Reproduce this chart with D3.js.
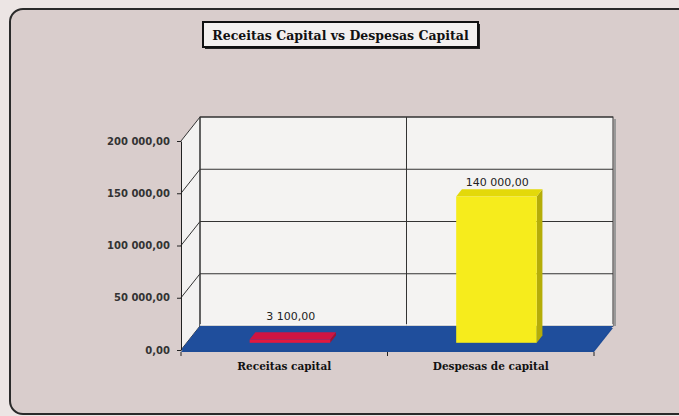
<!DOCTYPE html>
<html>
<head>
<meta charset="utf-8">
<script src="https://cdn.jsdelivr.net/npm/d3@7"></script>
<style>
  body { margin: 0; background: #ece5e4; overflow: hidden; }
  svg { display: block; }
</style>
</head>
<body>
<svg width="679" height="416"></svg>
<script>
// chart data
var categories = ["Receitas capital", "Despesas de capital"];
var values = [3100, 140000];
var yTicks = [0, 50000, 100000, 150000, 200000];
var barColors = ["#e2183f", "#f6ec1c"];
var barTops = ["#cf1442", "#e3d90a"];
var barSides = ["#a3102e", "#b5ad08"];
var title = "Receitas Capital vs Despesas Capital";

var svg = d3.select("svg");
var DEPTH = {dx: 19, dy: -24};
var fmt = d3.formatLocale({decimal: ",", thousands: " ", grouping: [3], currency: ["", ""]}).format(",.2f");

var x = d3.scaleBand().domain(categories).range([181, 594]);
var y = d3.scaleLinear().domain([0, 200000]).range([350, 141]);

// outer frame (open on the right, it runs off the picture)
svg.append("path")
    .attr("d", "M690,9 H23 A13,13 0 0 0 10,22 V401 A13,13 0 0 0 23,414 H690 Z")
    .attr("fill", "#d9cdcc");
svg.append("path")
    .attr("d", "M690,9 H23 A13,13 0 0 0 10,22 V401 A13,13 0 0 0 23,414 H690")
    .attr("fill", "none")
    .attr("stroke", "#2a2a2a")
    .attr("stroke-width", 2);

// title box
svg.append("rect")
    .attr("x", 205).attr("y", 24)
    .attr("width", 275).attr("height", 25)
    .attr("fill", "#222");
svg.append("rect")
    .attr("x", 203).attr("y", 22)
    .attr("width", 275).attr("height", 25)
    .attr("fill", "#f3f0ef")
    .attr("stroke", "#111")
    .attr("stroke-width", 2);
svg.append("text")
    .attr("x", 340.5).attr("y", 40)
    .attr("text-anchor", "middle")
    .attr("font-family", "DejaVu Serif")
    .attr("font-weight", "bold")
    .attr("font-size", 12.5)
    .attr("fill", "#111")
    .text(title);

var y0 = y(0), y1 = y(200000);
var xl = x.range()[0], xr = x.range()[1];

// side wall + back wall
svg.append("polygon")
    .attr("points", [[xl, y0], [xl + DEPTH.dx, y0 + DEPTH.dy], [xl + DEPTH.dx, y1 + DEPTH.dy], [xl, y1]].join(" "))
    .attr("fill", "#f3f2f1");
svg.append("rect")
    .attr("x", xl + DEPTH.dx).attr("y", y1 + DEPTH.dy)
    .attr("width", xr - xl).attr("height", y0 - y1)
    .attr("fill", "#f4f3f2")
    .attr("stroke", "#333");
svg.append("line")
    .attr("x1", xr + DEPTH.dx + 2).attr("x2", xr + DEPTH.dx + 2)
    .attr("y1", y1 + DEPTH.dy + 2).attr("y2", y0 + DEPTH.dy)
    .attr("stroke", "#999").attr("stroke-width", 2);

// gridlines on walls
var grid = svg.append("g").attr("stroke", "#333").attr("fill", "none");
yTicks.forEach(function(t) {
    grid.append("polyline")
        .attr("points", [[xl, y(t)], [xl + DEPTH.dx, y(t) + DEPTH.dy], [xr + DEPTH.dx, y(t) + DEPTH.dy]].join(" "));
});
grid.append("line")
    .attr("x1", xl + DEPTH.dx).attr("x2", xl + DEPTH.dx)
    .attr("y1", y0 + DEPTH.dy).attr("y2", y1 + DEPTH.dy);
var mid = x(categories[1]);
grid.append("line")
    .attr("x1", mid + DEPTH.dx).attr("x2", mid + DEPTH.dx)
    .attr("y1", y0 + DEPTH.dy).attr("y2", y1 + DEPTH.dy);

// floor
svg.append("polygon")
    .attr("points", [[xl, y0 + 2], [xr, y0 + 2], [xr + DEPTH.dx, y0 + DEPTH.dy + 2], [xl + DEPTH.dx, y0 + DEPTH.dy + 2]].join(" "))
    .attr("fill", "#1d4b96");
svg.append("polygon")
    .attr("points", [[xl, y0], [xr, y0], [xr + DEPTH.dx, y0 + DEPTH.dy], [xl + DEPTH.dx, y0 + DEPTH.dy]].join(" "))
    .attr("fill", "#1f4e9c");
svg.append("line")
    .attr("x1", xl + DEPTH.dx).attr("x2", xr + DEPTH.dx)
    .attr("y1", y0 + DEPTH.dy - 1).attr("y2", y0 + DEPTH.dy - 1)
    .attr("stroke", "#fafafa").attr("stroke-width", 1.5);

// bars
var z0 = 0.3, z1 = 0.6, bw = x.bandwidth() * 0.39;
var bars = svg.append("g");
categories.forEach(function(c, i) {
    var v = values[i];
    var cx = x(c) + x.bandwidth() / 2;
    var fx0 = cx - bw / 2 + DEPTH.dx * z0, fx1 = fx0 + bw;
    var fyb = y(0) + DEPTH.dy * z0, fyt = y(v) + DEPTH.dy * z0;
    var ddx = DEPTH.dx * (z1 - z0), ddy = DEPTH.dy * (z1 - z0);
    bars.append("polygon")
        .attr("points", [[fx1, fyb], [fx1 + ddx, fyb + ddy], [fx1 + ddx, fyt + ddy], [fx1, fyt]].join(" "))
        .attr("fill", barSides[i]);
    bars.append("polygon")
        .attr("points", [[fx0, fyt], [fx1, fyt], [fx1 + ddx, fyt + ddy], [fx0 + ddx, fyt + ddy]].join(" "))
        .attr("fill", barTops[i]);
    bars.append("rect")
        .attr("x", fx0).attr("y", fyt)
        .attr("width", bw).attr("height", fyb - fyt)
        .attr("fill", barColors[i]);
    var ly = Math.min(fyt + ddy - 3, y(0) + DEPTH.dy - 6);
    svg.append("text")
        .attr("x", cx + DEPTH.dx * (z0 + z1) / 2 - 2)
        .attr("y", ly)
        .attr("text-anchor", "middle")
        .attr("font-family", "DejaVu Sans")
        .attr("font-size", 11)
        .attr("fill", "#222")
        .text(fmt(v));
});

// value axis
var yAxis = svg.append("g")
    .attr("transform", "translate(" + xl + ",0)")
    .call(d3.axisLeft(y).tickValues(yTicks).tickFormat(fmt).tickSize(4).tickPadding(7).tickSizeOuter(0));
yAxis.select(".domain").attr("stroke", "#222");
yAxis.selectAll(".tick line").attr("stroke", "#222");
yAxis.selectAll("text")
    .attr("font-family", "DejaVu Sans")
    .attr("font-weight", "bold")
    .attr("font-size", 10)
    .attr("fill", "#333");

// category axis
var xAxis = svg.append("g")
    .attr("transform", "translate(0," + (y0 + 2) + ")")
    .call(d3.axisBottom(x).tickSize(0).tickPadding(11));
xAxis.select(".domain").attr("stroke", "none");
xAxis.selectAll("text")
    .attr("font-family", "DejaVu Serif")
    .attr("font-weight", "bold")
    .attr("font-size", 10.5)
    .attr("fill", "#111");
x.domain().concat([null]).forEach(function(c) {
    var px = c === null ? xr : x(c);
    xAxis.append("line")
        .attr("x1", px).attr("x2", px)
        .attr("y1", 0).attr("y2", 4)
        .attr("stroke", "#222");
});
</script>
</body>
</html>
